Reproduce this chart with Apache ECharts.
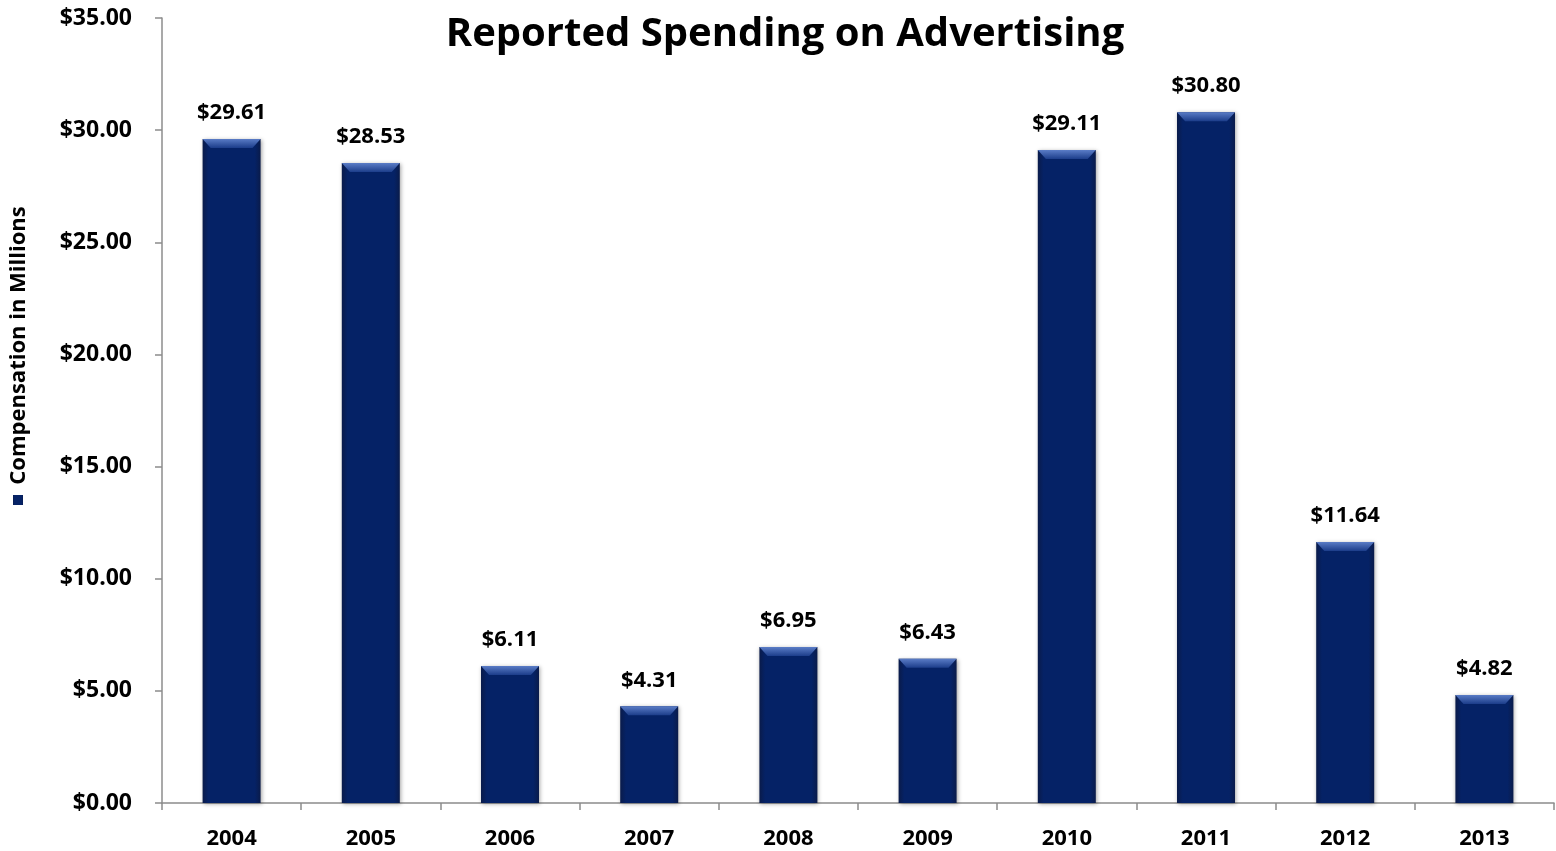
<!DOCTYPE html>
<html><head><meta charset="utf-8">
<script src="https://cdn.jsdelivr.net/npm/echarts@6/dist/echarts.min.js"></script>
<style>html,body{margin:0;padding:0;background:#fff}#c{width:1556px;height:851px}</style>
</head><body><div id="c"></div>
<script>
const years = ['2004','2005','2006','2007','2008','2009','2010','2011','2012','2013'];
const spending = [29.61, 28.53, 6.11, 4.31, 6.95, 6.43, 29.11, 30.80, 11.64, 4.82];
const yTicks = {min: 0, max: 35, interval: 5};
const seriesName = 'Compensation in Millions';
const titleText = 'Reported Spending on Advertising';

const FONT = 'Open Sans';
const chart = echarts.init(document.getElementById('c'));
chart.setOption({
  animation: false,
  title: {text: titleText, left: 780, top: 10, textAlign: 'center',
    textStyle: {fontFamily: FONT, fontWeight: 'bold', fontSize: 40, color: '#000'}},
  legend: {show: true, left: 13, top: 495, itemWidth: 10, itemHeight: 10, icon: 'rect',
    data: [{name: seriesName}], formatter: () => '', itemGap: 0, padding: 0,
    selectedMode: false},
  grid: {left: 161, right: 2, top: 18, bottom: 48},
  xAxis: {type: 'category', data: years,
    axisLine: {lineStyle: {color: '#8c8c8c', width: 1.5}},
    axisTick: {show: true, length: 7, lineStyle: {color: '#8c8c8c', width: 1.5}},
    axisLabel: {fontFamily: FONT, fontWeight: 'bold', fontSize: 22, color: '#000', margin: 25}},
  yAxis: {type: 'value', min: yTicks.min, max: yTicks.max, interval: yTicks.interval,
    name: seriesName, nameLocation: 'middle', nameRotate: 90, nameGap: 143,
    nameTextStyle: {fontFamily: FONT, fontWeight: 'bold', fontSize: 22, color: '#000', padding: [0, 0, 0, 130],
      verticalAlign: 'middle'},
    axisLine: {show: true, lineStyle: {color: '#8c8c8c', width: 1.5}},
    axisTick: {show: true, length: 7, lineStyle: {color: '#8c8c8c', width: 1.5}},
    splitLine: {show: false},
    axisLabel: {fontFamily: FONT, fontWeight: 'bold', fontSize: 23, color: '#000', margin: 30,
      formatter: v => '$' + v.toFixed(2)}},
  series: [
    {name: seriesName, type: 'bar', data: spending, barWidth: 58,
      itemStyle: {color: new echarts.graphic.LinearGradient(0, 0, 1, 0, [
        {offset: 0, color: '#0a1b4a'}, {offset: 0.1, color: '#052266'},
        {offset: 0.9, color: '#052266'}, {offset: 1, color: '#0a1b4a'}]),
        shadowColor: 'rgba(0,0,0,0.35)', shadowBlur: 4, shadowOffsetX: 1, shadowOffsetY: 1},
      label: {show: true, position: 'top', distance: 15, fontFamily: FONT, fontWeight: 'bold',
        fontSize: 22, color: '#000', formatter: p => '$' + p.value.toFixed(2)}},
    {name: 'bevel', type: 'pictorialBar', data: spending, barGap: '-100%',
      symbol: 'path://M0,0 L100,0 L86,100 L14,100 Z', symbolSize: [58, 9],
      symbolPosition: 'end', symbolOffset: [0, 0], z: 5, silent: true,
      itemStyle: {color: new echarts.graphic.LinearGradient(0, 0, 0, 1, [
        {offset: 0, color: '#5a7cc6'}, {offset: 1, color: '#1c3d8a'}])}}
  ]
});
</script></body></html>
